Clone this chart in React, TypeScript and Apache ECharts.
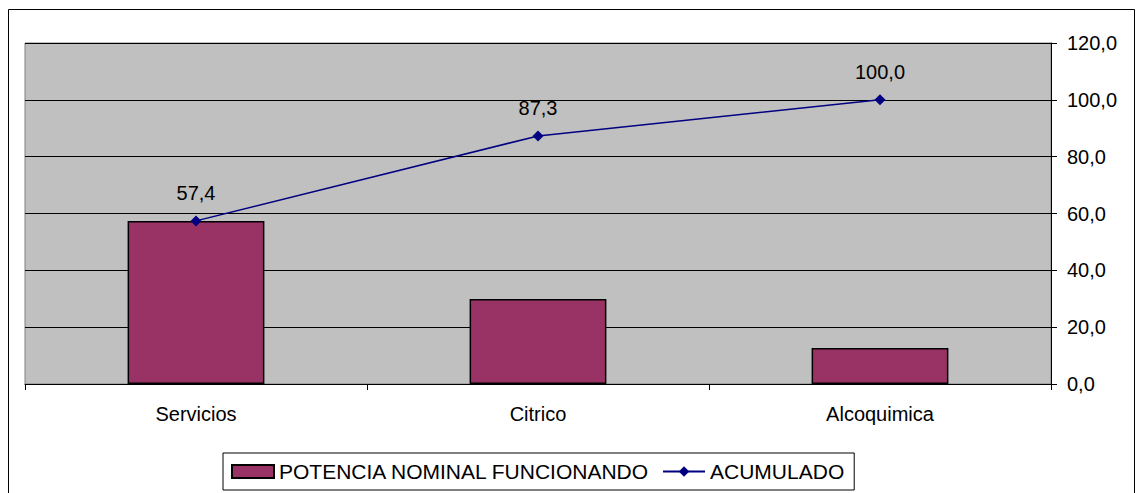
import React, { useEffect, useRef } from "react";
import * as echarts from "echarts";

const categories = ["Servicios", "Citrico", "Alcoquimica"];
const potenciaValues = [57.4, 29.9, 12.7];
const acumuladoValues = [57.4, 87.3, 100.0];
const barName = "POTENCIA NOMINAL FUNCIONANDO";
const lineName = "ACUMULADO";

const fmt = (v: number) => v.toFixed(1).replace(".", ",");
const FONT = "Liberation Sans, Arial, sans-serif";

export default function App() {
  const ref = useRef<HTMLDivElement>(null);
  useEffect(() => {
    if (!ref.current) return;
    const chart = echarts.init(ref.current, null, { renderer: "svg" });
    chart.setOption({
      animation: false,
      backgroundColor: "#ffffff",
      textStyle: { fontFamily: FONT },
      graphic: [
        {
          type: "rect",
          shape: { x: 8.5, y: 9.5, width: 1126, height: 500 },
          style: { fill: "none", stroke: "#000000", lineWidth: 1 },
          silent: true,
          z: -10,
        },
      ],
      grid: {
        left: 25,
        right: 86,
        top: 43,
        bottom: 109,
        show: true,
        backgroundColor: "#C0C0C0",
        borderColor: "#808080",
        borderWidth: 1,
      },
      legend: {
        left: 223,
        top: 453,
        padding: [8, 10, 8, 8],
        itemGap: 12,
        itemWidth: 42,
        itemHeight: 13,
        borderColor: "#000000",
        borderWidth: 1,
        backgroundColor: "#ffffff",
        textStyle: { fontSize: 21, color: "#000000", fontFamily: FONT },
        data: [
          { name: barName, icon: "rect" },
          { name: lineName },
        ],
      },
      xAxis: {
        type: "category",
        data: categories,
        boundaryGap: true,
        axisLine: { show: true, lineStyle: { color: "#000000", width: 1 } },
        axisTick: { show: true, length: 6, lineStyle: { color: "#000000" } },
        axisLabel: { fontSize: 20, color: "#000000", margin: 20, fontFamily: FONT },
        splitLine: { show: false },
      },
      yAxis: {
        type: "value",
        position: "right",
        min: 0,
        max: 120,
        interval: 20,
        axisLine: { show: true, lineStyle: { color: "#000000", width: 1 } },
        axisTick: { show: true, length: 6, lineStyle: { color: "#000000" } },
        axisLabel: {
          fontSize: 20,
          color: "#000000",
          margin: 16,
          fontFamily: FONT,
          formatter: (v: number) => fmt(v),
        },
        splitLine: { show: true, lineStyle: { color: "#000000", width: 1 } },
      },
      series: [
        {
          name: barName,
          type: "bar",
          data: potenciaValues,
          barWidth: "40%",
          itemStyle: { color: "#993366", borderColor: "#000000", borderWidth: 1.5 },
        },
        {
          name: lineName,
          type: "line",
          data: acumuladoValues,
          symbol: "diamond",
          symbolSize: 11,
          lineStyle: { color: "#000080", width: 1.5 },
          itemStyle: { color: "#000080" },
          label: {
            show: true,
            position: "top",
            distance: 12,
            fontSize: 20,
            color: "#000000",
            fontFamily: FONT,
            formatter: (p: any) => fmt(p.value),
          },
        },
      ],
    });
    return () => chart.dispose();
  }, []);
  return (
    <div
      ref={ref}
      style={{ position: "fixed", left: 0, top: 0, width: 1137, height: 493 }}
    />
  );
}
